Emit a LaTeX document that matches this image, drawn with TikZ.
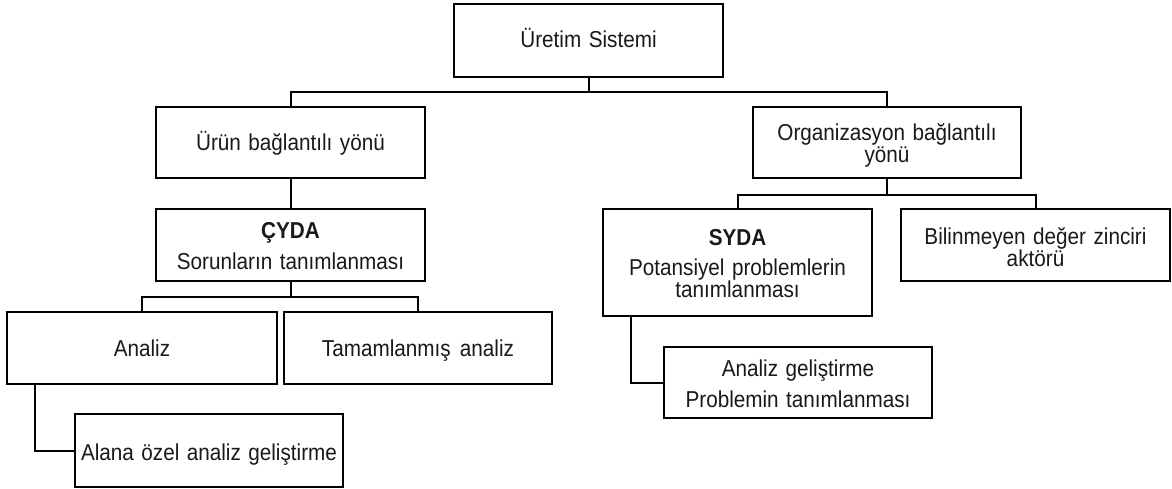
\documentclass[tikz,border=0pt]{standalone}
\usepackage{fontspec}
\setmainfont{Liberation Sans}[FakeStretch=0.9, WordSpace=1.3]
\begin{document}
\begin{tikzpicture}[x=1pt,y=1pt,
  box/.style={draw=black, line width=2pt, rectangle, inner sep=0pt},
  txt/.style={inner sep=0pt, anchor=base, align=center, font=\fontsize{23}{22}\selectfont, text=black!90},
  conn/.style={draw=black, line width=2pt}
]
\useasboundingbox (0,0) rectangle (1172,-489);
% boxes
\node[box, minimum width=269, minimum height=73] (top) at (588.5,-40.5) {};
\node[box, minimum width=269, minimum height=71] (urun) at (290.5,-142.5) {};
\node[box, minimum width=268, minimum height=71] (org) at (887,-142.5) {};
\node[box, minimum width=269, minimum height=72] (cyda) at (290.5,-245) {};
\node[box, minimum width=269, minimum height=107] (syda) at (737.5,-262.5) {};
\node[box, minimum width=269, minimum height=72] (bil) at (1035.5,-245) {};
\node[box, minimum width=270, minimum height=72] (analiz) at (142,-348) {};
\node[box, minimum width=268, minimum height=72] (tam) at (418,-348) {};
\node[box, minimum width=268, minimum height=71] (ag) at (798,-382.5) {};
\node[box, minimum width=268, minimum height=73] (alana) at (209,-450.5) {};
% texts (base anchor of a two-line text = baseline of its last line)
\node[txt] (t-top) at (588.5,-48) {Üretim Sistemi};
\node[txt] (t-urun) at (290.5,-151) {Ürün bağlantılı yönü};
\node[txt] (t-org) at (887,-163) {Organizasyon bağlantılı\\yönü};
\node[txt, font=\fontsize{23}{22}\selectfont\bfseries] (t-cyda1) at (290.5,-238) {ÇYDA};
\node[txt] (t-cyda2) at (290.5,-269) {Sorunların tanımlanması};
\node[txt, font=\fontsize{23}{22}\selectfont\bfseries] (t-syda1) at (737.5,-245) {SYDA};
\node[txt] (t-syda2) at (737.5,-297.5) {Potansiyel problemlerin\\tanımlanması};
\node[txt] (t-bil) at (1035.5,-266) {Bilinmeyen değer zinciri\\aktörü};
\node[txt] (t-analiz) at (142,-356) {Analiz};
\node[txt] (t-tam) at (418,-356) {Tamamlanmış\hspace{0.4em}analiz};
\node[txt] (t-ag1) at (798,-376) {Analiz geliştirme};
\node[txt] (t-ag2) at (798,-407) {Problemin tanımlanması};
\node[txt] (t-alana) at (209,-460) {Alana özel analiz geliştirme};
% junctions
\coordinate (j1) at (588.5,-92);
\coordinate (j2) at (290.5,-297);
\coordinate (j3) at (887,-195);
% connectors
\draw[conn] (top.south) -- (j1);
\draw[conn] (urun.north) |- (j1) -| (org.north);
\draw[conn] (urun.south) -- (cyda.north);
\draw[conn] (cyda.south) -- (j2);
\draw[conn] (analiz.north) |- (j2) -| (tam.north);
\draw[conn] (org.south) -- (j3);
\draw[conn] (syda.north) |- (j3) -| (bil.north);
\draw[conn] ([xshift=29pt]analiz.south west) |- (alana.west);
\draw[conn] ([xshift=29pt]syda.south west) |- (ag.west);
\end{tikzpicture}
\end{document}
